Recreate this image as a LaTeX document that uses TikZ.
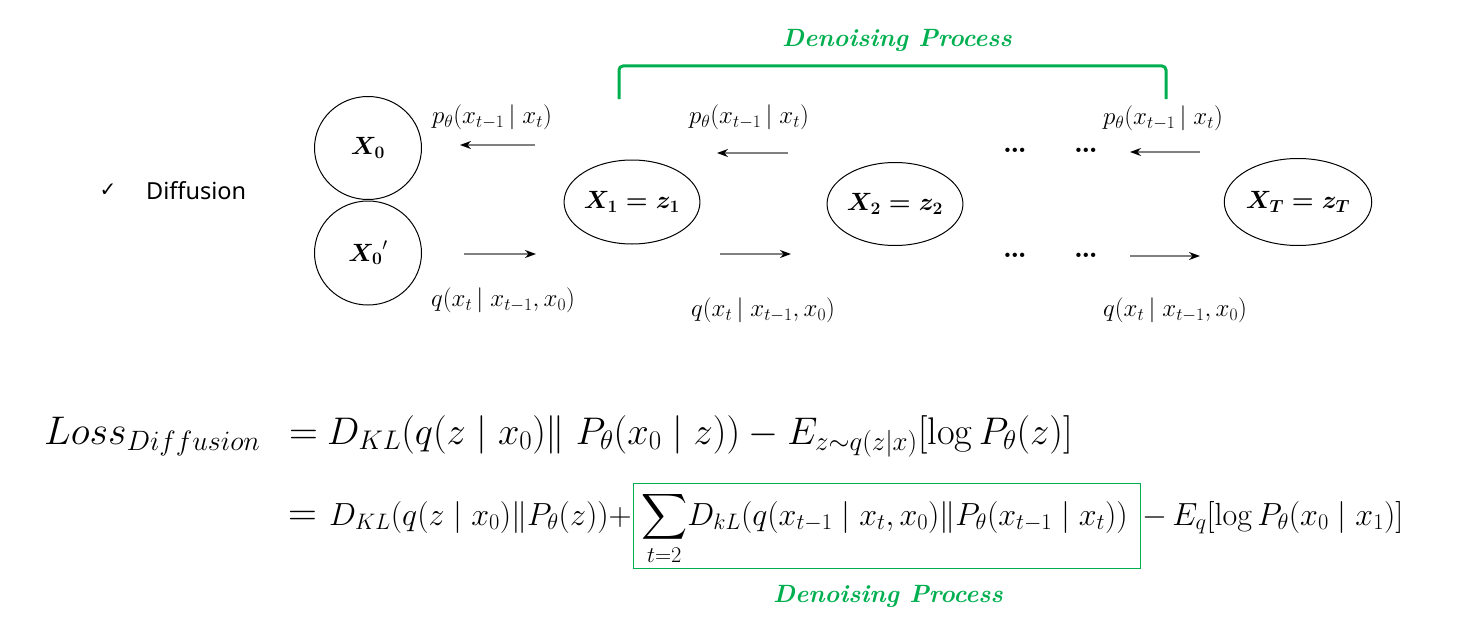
\RequirePackage{fix-cm}
\documentclass[tikz,border=0pt]{standalone}
\usepackage{amsmath,amssymb}
\usepackage{fontspec}
\newfontfamily\notosans{Noto Sans}
\newfontfamily\dejavu{DejaVu Sans}
\usetikzlibrary{arrows.meta,shapes.geometric}
\definecolor{dgreen}{RGB}{0,176,80}
\tikzset{
  state/.style={draw=black, line width=1pt, ellipse, inner sep=0pt, font=\fontsize{25}{27}\selectfont},
  lab/.style={font=\fontsize{25}{28}\selectfont, inner sep=0pt},
  farrow/.style={draw=gray, line width=1.4pt, -{Stealth[length=11pt,width=8pt,color=black]}},
  dots/.style={font=\fontsize{30}{32}\selectfont\bfseries, inner sep=0pt},
  greentext/.style={text=dgreen, font=\fontsize{25}{28}\selectfont\bfseries\itshape, inner sep=0pt},
  eqone/.style={font=\fontsize{38.5}{42}\selectfont, inner sep=0pt, anchor=base west},
  eqtwo/.style={font=\fontsize{32}{36}\selectfont, inner sep=0pt, anchor=base west},
  eqsign/.style={font=\fontsize{40}{44}\selectfont, inner sep=0pt, anchor=base west},
}
\begin{document}
\begin{tikzpicture}[x=1pt,y=-1pt]
\useasboundingbox[fill=white] (0,0) rectangle (1470,626);

% left label
\node[inner sep=0pt, font=\dejavu\fontsize{20}{22}\selectfont] (chk) at (108,190) {✓};
\node[inner sep=0pt, anchor=west, font=\notosans\fontsize{23.5}{26}\selectfont] (diff) at (146,191) {Diffusion};

% states
\node[state, minimum width=107pt, minimum height=103pt] (x0) at (368,148) {$\boldsymbol{X_0}$};
\node[state, minimum width=107pt, minimum height=104pt] (x0p) at (368,253) {$\boldsymbol{X_0}'$};
\node[state, minimum width=135pt, minimum height=84pt] (x1) at (632,202) {$\boldsymbol{X_1 = z_1}$};
\node[state, minimum width=134pt, minimum height=83pt] (x2) at (895,204) {$\boldsymbol{X_2 = z_2}$};
\node[state, minimum width=137pt, minimum height=87pt] (xT) at (1298,202) {$\boldsymbol{X_T = z_T}$};

% arrow end points
\coordinate (a1s) at (535,145); \coordinate (a1e) at (460,145);
\coordinate (a2s) at (788,153); \coordinate (a2e) at (717,153);
\coordinate (a3s) at (1200,152); \coordinate (a3e) at (1130,152);
\coordinate (b1s) at (464,254); \coordinate (b1e) at (536,254);
\coordinate (b2s) at (720,254); \coordinate (b2e) at (791,254);
\coordinate (b3s) at (1130,256); \coordinate (b3e) at (1200,256);
\draw[farrow] (a1s) -- (a1e);
\draw[farrow] (a2s) -- (a2e);
\draw[farrow] (a3s) -- (a3e);
\draw[farrow] (b1s) -- (b1e);
\draw[farrow] (b2s) -- (b2e);
\draw[farrow] (b3s) -- (b3e);

% labels
\node[lab] (p1) at (492,117) {$p_\theta(x_{t-1}\,|\; x_t)$};
\node[lab] (p2) at (749,117) {$p_\theta(x_{t-1}\,|\; x_t)$};
\node[lab] (p3) at (1163,118) {$p_\theta(x_{t-1}\,|\; x_t)$};
\node[lab] (q1) at (503,300) {$q(x_t\,|\; x_{t-1}, x_0)$};
\node[lab] (q2) at (763,310) {$q(x_t\,|\; x_{t-1}, x_0)$};
\node[lab] (q3) at (1175,310) {$q(x_t\,|\; x_{t-1}, x_0)$};

% dots
\node[dots] (d1) at (1015,150) {\ldots};
\node[dots] (d2) at (1086,150) {\ldots};
\node[dots] (d3) at (1015,255) {\ldots};
\node[dots] (d4) at (1086,255) {\ldots};

% bracket
\coordinate (bl) at (619,99); \coordinate (br) at (1166,99);
\draw[dgreen, line width=3pt, rounded corners=4pt] (bl) -- (619,66) -- (1166,66) -- (br);
\node[greentext] (dp1) at (897,40) {Denoising Process};

% equation line 1
\node[inner sep=0pt, anchor=base west, font=\fontsize{40}{44}\selectfont] (loss) at (44,444) {$Loss_{Diffusion}$};
\node[eqsign] (eq1) at (289,444) {$=$};
\node[eqone] (e1) at (327,444) {$D_{KL}(q(z\mid x_0)\|\;P_\theta(x_0\mid z))-E_{z\sim q(z|x)}[\log P_\theta(z)]$};

% equation line 2
\node[eqsign] (eq2) at (288,525) {$=$};
\node[eqtwo] (e2a) at (329,525) {$D_{KL}(q(z\mid x_0)\|P_\theta(z))+$};
\node[draw=dgreen, line width=1pt, minimum width=507pt, minimum height=85pt, inner sep=0pt] (box) at (886.5,525.5) {};
\node[eqtwo] (e2b) at (641,525) {$\displaystyle\sum_{t=2}\! D_{kL}(q(x_{t-1}\mid x_t,x_0)\|P_\theta(x_{t-1}\mid x_t))$};
\node[eqtwo] (e2c) at (1142,525) {$-\,E_q[\log P_\theta(x_0\mid x_1)]$};
\node[greentext] (dp2) at (888,596) {Denoising Process};
\end{tikzpicture}
\end{document}
